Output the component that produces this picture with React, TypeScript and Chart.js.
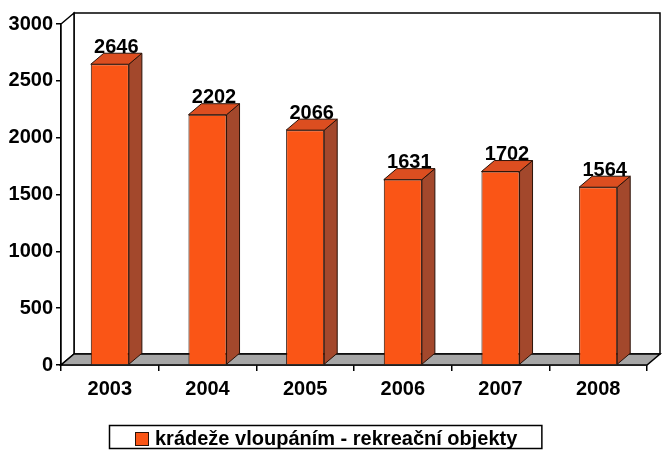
import React, { useEffect, useRef } from "react";
import { Chart, registerables } from "chart.js";

Chart.register(...registerables);

const categories = ["2003", "2004", "2005", "2006", "2007", "2008"];
const values = [2646, 2202, 2066, 1631, 1702, 1564];
const seriesLabel = "krádeže vloupáním - rekreační objekty";
const yMin = 0;
const yMax = 3000;
const yStep = 500;

const FONT = '"Liberation Sans", Arial, Helvetica, sans-serif';
const FS = 20;
const DX = 13;
const DY = -11;
const FRONT = "#FA5516";
const SIDE = "#A3482C";
const TOP = "#DC4E20";
const FLOOR = "#A6A6A6";
const EDGE = "#2a1208";

const depthPlugin = {
  id: "depth3d",
  beforeDatasetsDraw(chart: any) {
    const { ctx, chartArea } = chart;
    const { left, right, top, bottom } = chartArea;
    ctx.save();
    ctx.lineWidth = 1.5;
    ctx.strokeStyle = "#000";
    ctx.fillStyle = "#fff";
    ctx.beginPath();
    ctx.rect(left + DX, top + DY, right - left, bottom - top);
    ctx.fill();
    ctx.stroke();
    ctx.beginPath();
    ctx.moveTo(left, top);
    ctx.lineTo(left + DX, top + DY);
    ctx.lineTo(left + DX, bottom + DY);
    ctx.lineTo(left, bottom);
    ctx.closePath();
    ctx.fill();
    ctx.stroke();
    ctx.fillStyle = FLOOR;
    ctx.beginPath();
    ctx.moveTo(left, bottom);
    ctx.lineTo(right, bottom);
    ctx.lineTo(right + DX, bottom + DY);
    ctx.lineTo(left + DX, bottom + DY);
    ctx.closePath();
    ctx.fill();
    ctx.stroke();
    ctx.restore();
  },
  afterDatasetsDraw(chart: any) {
    const { ctx } = chart;
    const meta = chart.getDatasetMeta(0);
    ctx.save();
    ctx.lineWidth = 1;
    ctx.strokeStyle = EDGE;
    meta.data.forEach((bar: any, i: number) => {
      const { x, y, width, base } = bar.getProps(["x", "y", "width", "base"], true);
      const l = x - width / 2;
      const r = x + width / 2;
      ctx.fillStyle = SIDE;
      ctx.beginPath();
      ctx.moveTo(r, y);
      ctx.lineTo(r + DX, y + DY);
      ctx.lineTo(r + DX, base + DY);
      ctx.lineTo(r, base);
      ctx.closePath();
      ctx.fill();
      ctx.stroke();
      ctx.fillStyle = TOP;
      ctx.beginPath();
      ctx.moveTo(l, y);
      ctx.lineTo(l + DX, y + DY);
      ctx.lineTo(r + DX, y + DY);
      ctx.lineTo(r, y);
      ctx.closePath();
      ctx.fill();
      ctx.stroke();
      ctx.fillStyle = "#000";
      ctx.font = `bold ${FS}px ${FONT}`;
      ctx.textAlign = "center";
      ctx.textBaseline = "bottom";
      ctx.fillText(String(values[i]), x + DX / 2, y + DY + 4);
    });
    ctx.restore();
  },
  afterDraw(chart: any) {
    const { ctx } = chart;
    ctx.save();
    ctx.font = `bold ${FS}px ${FONT}`;
    const textW = ctx.measureText(seriesLabel).width;
    const boxL = 109;
    const boxT = 425;
    const boxH = 23;
    const markX = 135;
    const textX = markX + 20;
    const boxW = textX + textW + 24 - boxL;
    ctx.fillStyle = "#fff";
    ctx.fillRect(boxL, boxT, boxW, boxH);
    ctx.lineWidth = 1.5;
    ctx.strokeStyle = "#000";
    ctx.strokeRect(boxL + 0.5, boxT + 0.5, boxW, boxH);
    ctx.fillStyle = FRONT;
    ctx.fillRect(markX, boxT + 7, 13, 13);
    ctx.lineWidth = 1;
    ctx.strokeStyle = EDGE;
    ctx.strokeRect(markX + 0.5, boxT + 7.5, 13, 13);
    ctx.fillStyle = "#000";
    ctx.textAlign = "left";
    ctx.textBaseline = "alphabetic";
    ctx.fillText(seriesLabel, textX, boxT + 20);
    ctx.restore();
  },
};

export default function App() {
  const ref = useRef<HTMLCanvasElement | null>(null);
  useEffect(() => {
    if (!ref.current) return;
    const tickFont = { family: FONT, size: FS, weight: "bold" as const };
    const chart = new Chart(ref.current, {
      type: "bar",
      data: {
        labels: categories,
        datasets: [
          {
            label: seriesLabel,
            data: values,
            backgroundColor: FRONT,
            borderColor: EDGE,
            borderWidth: 1,
            categoryPercentage: 1,
            barPercentage: 0.39,
          },
        ],
      },
      options: {
        animation: false,
        responsive: true,
        maintainAspectRatio: false,
        layout: { padding: { left: 8, right: 22, top: 24, bottom: 0 } },
        plugins: { legend: { display: false }, tooltip: { enabled: false } },
        scales: {
          x: {
            grid: {
              offset: true,
              drawOnChartArea: false,
              drawTicks: true,
              tickLength: 6,
              color: "#000",
              lineWidth: 1.5,
            },
            border: { display: true, color: "#000", width: 1.5 },
            ticks: { font: tickFont, color: "#000", padding: 6 },
            afterFit: (s: any) => {
              s.height = 88;
            },
          },
          y: {
            min: yMin,
            max: yMax,
            grid: {
              drawOnChartArea: false,
              drawTicks: true,
              tickLength: 5,
              color: "#000",
              lineWidth: 1.5,
            },
            border: { display: true, color: "#000", width: 1.5 },
            ticks: {
              stepSize: yStep,
              font: tickFont,
              color: "#000",
              padding: 3,
              callback: (v: any) => String(v),
            },
            afterFit: (s: any) => {
              s.width = 53;
            },
          },
        },
      },
      plugins: [depthPlugin],
    });
    return () => chart.destroy();
  }, []);
  return (
    <div style={{ position: "fixed", left: 0, top: 0, width: 669, height: 453, background: "#fff" }}>
      <canvas ref={ref} />
    </div>
  );
}
